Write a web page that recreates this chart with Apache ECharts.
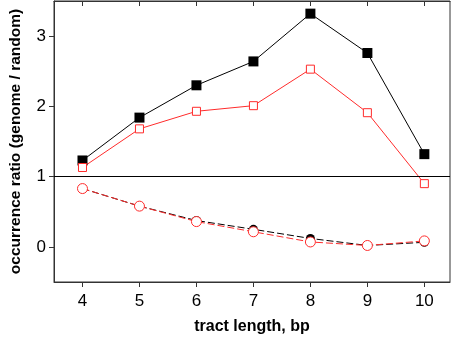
<!DOCTYPE html>
<html>
<head>
<meta charset="utf-8">
<script src="https://cdn.jsdelivr.net/npm/echarts@6/dist/echarts.min.js"></script>
</head>
<body style="margin:0">
<div id="container" style="width:455px;height:340px"></div>
<script type="text/javascript">
    var tractLength = [4, 5, 6, 7, 8, 9, 10];
    var blackSquares = [1.23, 1.84, 2.30, 2.64, 3.32, 2.76, 1.32];
    var redSquares = [1.13, 1.68, 1.93, 2.01, 2.53, 1.91, 0.90];
    var blackCircles = [0.83, 0.58, 0.375, 0.25, 0.12, 0.02, 0.065];
    var redCircles = [0.83, 0.58, 0.36, 0.215, 0.07, 0.02, 0.085];
    var yTicks = [0, 1, 2, 3];

    function pairs(vals) {
        return tractLength.map(function (x, i) { return [x, vals[i]]; });
    }

    var red = '#ff2b2b';
    var font = 'Liberation Sans, Arial, sans-serif';
    var myChart = echarts.init(document.getElementById('container'));
    var option = {
        animation: false,
        grid: {left: 48, right: 5, top: 1, bottom: 55, show: true, borderColor: '#333', borderWidth: 1},
        xAxis: [{
            type: 'value', min: 3.5, max: 10.45,
            name: 'tract length, bp', nameLocation: 'middle', nameGap: 37,
            nameTextStyle: {fontFamily: font, fontWeight: 'bold', fontSize: 16, color: '#000'},
            splitLine: {show: false},
            axisLine: {onZero: false, lineStyle: {color: '#333'}},
            axisTick: {length: 5, customValues: tractLength, lineStyle: {color: '#333'}},
            axisLabel: {customValues: tractLength, margin: 11, fontFamily: font, fontSize: 17, color: '#000'}
        }, {
            type: 'value', min: 3.5, max: 10.45, position: 'top',
            splitLine: {show: false},
            axisLine: {onZero: false, lineStyle: {color: '#333'}},
            axisTick: {inside: true, length: 5, customValues: tractLength, lineStyle: {color: '#333'}},
            axisLabel: {show: false}
        }],
        yAxis: {
            type: 'value', min: -0.5, max: 3.5,
            name: 'occurrence ratio (genome / random)', nameLocation: 'middle', nameGap: 30,
            nameTextStyle: {fontFamily: font, fontWeight: 'bold', fontSize: 15.5, color: '#000'},
            splitLine: {show: false},
            axisLine: {onZero: false, lineStyle: {color: '#333'}},
            axisTick: {length: 5, customValues: yTicks, lineStyle: {color: '#333'}},
            axisLabel: {customValues: yTicks, margin: 8, fontFamily: font, fontSize: 17, color: '#000'}
        },
        series: [
            {
                type: 'line', data: pairs(blackSquares), symbol: 'rect', symbolSize: 10,
                lineStyle: {color: '#000', width: 1}, itemStyle: {color: '#000'},
                markLine: {
                    silent: true, symbol: 'none', label: {show: false},
                    lineStyle: {color: '#000', width: 1, type: 'solid'},
                    data: [{yAxis: 1}]
                }
            },
            {
                type: 'line', data: pairs(redSquares), symbol: 'rect', symbolSize: 8,
                lineStyle: {color: red, width: 1},
                itemStyle: {color: '#fff', borderColor: red, borderWidth: 1}
            },
            {
                type: 'line', data: pairs(blackCircles), symbol: 'circle', symbolSize: 9,
                lineStyle: {color: '#000', width: 1, type: [7, 3]}, itemStyle: {color: '#000'}
            },
            {
                type: 'line', data: pairs(redCircles), symbol: 'circle', symbolSize: 10,
                lineStyle: {color: red, width: 1, type: [7, 3]},
                itemStyle: {color: '#fff', borderColor: red, borderWidth: 1}
            }
        ]
    };
    myChart.setOption(option);
</script>
</body>
</html>
